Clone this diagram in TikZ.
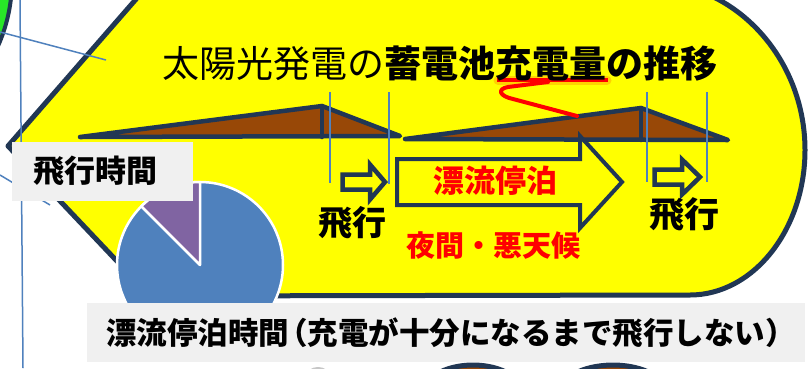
\documentclass[tikz,border=0pt]{standalone}
\usepackage{fontspec}
\newfontfamily\jp{Noto Sans CJK JP}
\definecolor{navy}{RGB}{33,55,84}
\definecolor{ylw}{RGB}{255,255,0}
\definecolor{brn}{RGB}{152,72,7}
\definecolor{lblue}{RGB}{79,129,189}
\definecolor{purp}{RGB}{128,100,162}
\definecolor{gbox}{RGB}{240,240,240}
\definecolor{grn}{RGB}{40,230,40}
\definecolor{redt}{RGB}{255,0,0}
\begin{document}
\begin{tikzpicture}[x=1pt,y=-1pt,
  outl/.style={draw=navy,line width=4.5pt,line join=round,line cap=round},
  thinline/.style={draw=lblue,line width=1.5pt},
  lbl/.style={inner sep=0pt,anchor=center},
  greybox/.style={fill=gbox,inner sep=0pt,draw=none}]
\useasboundingbox (0,0) rectangle (808,368);
\fill[white] (0,0) rectangle (808,368);
\clip (0,0) rectangle (808,368);
% green circle top-left
\draw[fill=grn,draw=navy,line width=4pt] (-150,-20) circle[radius=162pt];
% yellow callout shape
\draw[outl,fill=ylw,line width=5pt] (151,-18) -- (8,146) -- (150,296) -- (690,295)
  .. controls (753,295) and (805,230) .. (805,150)
  .. controls (805,58) and (735,-18) .. (650,-18) -- cycle;
% shapes peeking below the bottom box
\fill[gray!45] (318,376) ellipse[x radius=12pt,y radius=9pt];
\draw[fill=brn,draw=navy,line width=5pt] (473,396) ellipse[x radius=52pt,y radius=31pt];
\draw[fill=brn,draw=navy,line width=5pt] (613,396) ellipse[x radius=56pt,y radius=31pt];
% thin blue lines at left
\draw[thinline] (20,0) -- (23,368);
\draw[thinline] (0,32) -- (106,60);
\draw[thinline] (0,175) -- (50,205);
% charge graph
\draw[outl,fill=brn] (80,137) -- (322,106) -- (400,136) -- cycle;
\draw[outl] (322,106) -- (322,137);
\draw[outl,fill=brn] (405,139) -- (641,108) -- (728,140) -- cycle;
\draw[outl] (641,108) -- (641,140);
% thin vertical markers
\draw[thinline] (330,92) -- (330,183);
\draw[thinline] (389,92) -- (389,184);
\draw[thinline] (647,92) -- (647,182);
\draw[thinline] (707,92) -- (707,182);
% small flight arrows
\draw[outl,fill=ylw,line join=miter] (342.5,174.5) -- (370,174.5) -- (370,164.5) -- (385,182) -- (370,199.5) -- (370,189.5) -- (342.5,189.5) -- cycle;
\draw[outl,fill=ylw,line join=miter] (654.5,169.5) -- (682,169.5) -- (682,159.5) -- (700,177) -- (682,194.5) -- (682,184.5) -- (654.5,184.5) -- cycle;
% big drift arrow
\draw[outl,fill=ylw,line join=miter,line width=4pt] (397,159) -- (580,159) -- (580,136) -- (622,182) -- (580,228) -- (580,205) -- (397,205) -- cycle;
% texts in yellow area
\node[lbl,text=redt,font={\jp\bfseries\fontsize{31}{31}\selectfont}] (drift) at (495,181) {漂流停泊};
\node[lbl,text=redt,font={\jp\bfseries\fontsize{29}{29}\selectfont}] (night) at (493,246) {夜間・悪天候};
\node[lbl,font={\jp\bfseries\fontsize{34}{34}\selectfont}] (fly1) at (352,223) {飛行};
\node[lbl,font={\jp\bfseries\fontsize{35}{35}\selectfont}] (fly2) at (684,214) {飛行};
% title
\draw[orange,opacity=0.35,line width=9pt,line cap=round] (498,80) -- (607,80);
\draw[redt,line width=3.5pt] (497,80) -- (608,80);
\node[lbl,font={\jp\fontsize{37}{37}\selectfont}] (title) at (440,63) {太陽光発電の\bfseries 蓄電池充電量の推移};
\draw[redt,line width=4pt,line cap=round,line join=round] (548,82) -- (508,87) .. controls (497,89) and (499,96) .. (513,99) -- (577,116);
% pie chart
\begin{scope}[shift={(200pt,-265pt)},x=1pt,y=1pt]
  \draw[fill=lblue,draw=white,line width=2.5pt] (0,0) circle[radius=83pt];
  \draw[fill=purp,draw=white,line width=2.5pt,line join=round] (0,0) -- (90:83) arc[start angle=90,end angle=135,radius=83] -- cycle;
\end{scope}
% grey label boxes
\node[greybox,minimum width=181pt,minimum height=59pt] (box1) at (102.5,171.5) {};
\node[lbl,font={\jp\bfseries\fontsize{31}{31}\selectfont}] (flighttime) at (95,171) {飛行時間};
\node[greybox,minimum width=718pt,minimum height=59pt] (box2) at (446,332.5) {};
\node[lbl,font={\jp\bfseries\fontsize{30.5}{30.5}\selectfont}] (drifttime) at (451,333) {漂流停泊時間\kern-0.4em（充電が十分になるまで飛行しない）};
\end{tikzpicture}
\end{document}
